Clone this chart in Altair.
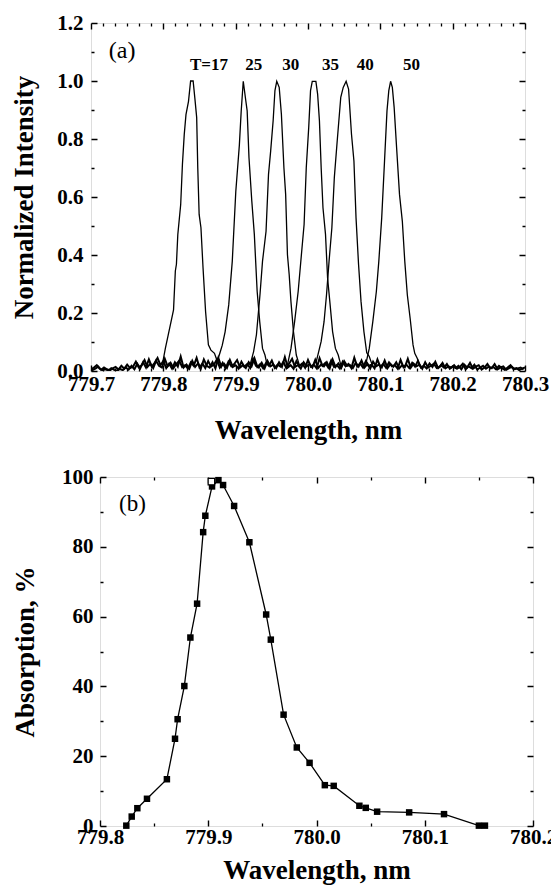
import altair as alt
import numpy as np
import pandas as pd

FONT = "Liberation Serif"

# ---------------- Panel (a): emission spectra ----------------
t17_wl = [779.7994, 779.8028, 779.8067, 779.8117, 779.8141, 779.8166, 779.8181, 779.8200, 779.8240, 779.8264,
          779.8289, 779.8313, 779.8348, 779.8377, 779.8412, 779.8436, 779.8461, 779.8476, 779.8495, 779.8520,
          779.8549, 779.8584, 779.8623, 779.8658, 779.8707, 779.8731, 779.8766, 779.8805]
t17_i = [0.032, 0.078, 0.124, 0.182, 0.211, 0.345, 0.368, 0.470, 0.574, 0.713,
         0.815, 0.884, 0.930, 1.000, 1.000, 0.940, 0.874, 0.701, 0.540, 0.494,
         0.355, 0.205, 0.090, 0.072, 0.061, 0.044, 0.026, 0.009]

t25_wl = [779.8731, 779.8781, 779.8815, 779.8854, 779.8904, 779.8953, 779.9002, 779.9051, 779.9076, 779.9105,
          779.9140, 779.9159, 779.9184, 779.9223, 779.9258, 779.9297, 779.9332, 779.9371, 779.9405, 779.9435]
t25_i = [0.021, 0.061, 0.089, 0.135, 0.228, 0.378, 0.620, 0.779, 0.894, 0.999,
         0.932, 0.897, 0.736, 0.586, 0.471, 0.275, 0.171, 0.078, 0.055, 0.021]

t30_wl = [779.9199, 779.9248, 779.9287, 779.9336, 779.9371, 779.9420, 779.9454, 779.9484, 779.9518, 779.9543,
          779.9568, 779.9602, 779.9632, 779.9667, 779.9691, 779.9716, 779.9740, 779.9764, 779.9799, 779.9838,
          779.9887]
t30_i = [0.021, 0.067, 0.125, 0.263, 0.378, 0.482, 0.678, 0.759, 0.863, 0.967,
         0.999, 0.978, 0.886, 0.701, 0.609, 0.401, 0.332, 0.240, 0.136, 0.055,
         0.015]

t35_wl = [779.9716, 779.9765, 779.9815, 779.9864, 779.9913, 779.9946, 779.9976, 780.0010, 780.0035, 780.0059,
          780.0109, 780.0133, 780.0158, 780.0182, 780.0207, 780.0242, 780.0271, 780.0306, 780.0340, 780.0379,
          780.0418, 780.0453]
t35_i = [0.021, 0.078, 0.170, 0.274, 0.413, 0.505, 0.701, 0.840, 0.967, 0.999,
         0.999, 0.955, 0.863, 0.701, 0.563, 0.471, 0.320, 0.228, 0.136, 0.078,
         0.055, 0.021]

t40_wl = [780.0109, 780.0148, 780.0182, 780.0222, 780.0256, 780.0291, 780.0330, 780.0364, 780.0404, 780.0453,
          780.0487, 780.0527, 780.0561, 780.0601, 780.0635, 780.0664, 780.0699, 780.0733, 780.0773, 780.0812,
          780.0847, 780.0896]
t40_i = [0.027, 0.067, 0.102, 0.170, 0.263, 0.378, 0.494, 0.667, 0.794, 0.944,
         0.978, 0.999, 0.972, 0.817, 0.724, 0.528, 0.367, 0.240, 0.136, 0.063,
         0.050, 0.015]

t50_wl = [780.0797, 780.0847, 780.0896, 780.0945, 780.0979, 780.1019, 780.1058, 780.1092, 780.1117, 780.1142,
          780.1166, 780.1191, 780.1225, 780.1265, 780.1304, 780.1338, 780.1373, 780.1412, 780.1452, 780.1476,
          780.1510, 780.1550]
t50_i = [0.021, 0.078, 0.170, 0.274, 0.378, 0.528, 0.724, 0.897, 0.967, 0.999,
         0.978, 0.909, 0.770, 0.609, 0.517, 0.378, 0.263, 0.182, 0.090, 0.061,
         0.044, 0.015]

# baseline noise of the spectra (thousandths of normalized intensity), read by eye
noise_a = [5, 12, 20, 8, 3, 6, 2, 10, 4, 1, 7, 3, 12, 5, 18, 6, 25, 9, 30, 12, 40, 15, 28, 45, 20,
           35, 10, 25, 8, 30, 15, 50, 12, 22, 8, 35, 14, 26, 10, 40, 18, 12, 30, 9, 45, 16, 25, 11, 38, 14, 20,
           8, 32, 15, 24, 10, 42, 18, 12, 28, 9, 35, 16, 22, 10, 30, 14, 48, 12, 20, 8, 34, 17, 26, 11, 38,
           15, 22, 9, 44, 18, 28, 12, 36, 14, 20, 8, 32, 16, 24, 10, 46, 15, 26, 12, 34, 18, 22, 9, 40, 14,
           25, 11, 30, 16, 20, 8, 38, 13, 22, 10, 28, 15, 35, 12, 18, 9, 26, 14, 32, 10, 20, 12, 24, 8, 16,
           10, 18, 6, 22, 12, 28, 8, 15, 20, 5, 12, 24, 9, 14, 6, 18, 10, 4, 12, 20, 7, 10, 3, 8, 12]
noise_b = [10, 3, 8, 15, 4, 12, 6, 2, 9, 14, 5, 18, 8, 22, 10, 15, 32, 12, 20, 38, 14, 25, 10, 35, 18,
           12, 42, 16, 28, 10, 24, 36, 14, 20, 8, 30, 18, 45, 12, 26, 10, 34, 15, 22, 40, 12, 28, 9, 32, 16, 24,
           38, 12, 20, 10, 30, 16, 44, 14, 24, 9, 28, 18, 36, 11, 22, 15, 32, 10, 26, 42, 14, 20, 8, 30, 16,
           24, 12, 38, 10, 22, 16, 30, 9, 40, 14, 26, 11, 34, 18, 20, 10, 28, 15, 36, 12, 24, 8, 32, 16, 22,
           12, 36, 10, 24, 15, 30, 9, 20, 14, 42, 11, 26, 16, 22, 8, 30, 12, 18, 25, 10, 14, 28, 9, 16, 12,
           20, 8, 14, 25, 6, 16, 10, 22, 5, 12, 18, 8, 15, 10, 24, 6, 12, 16, 4, 10, 14, 6, 9, 12, 5]

peak_labels = ["T=17", "25", "30", "35", "40", "50"]
peak_label_wl = [779.863, 779.925, 779.976, 780.031, 780.079, 780.143]
peak_label_y = [1.055] * 6

# ---------------- Panel (b): absorption ----------------
b_wl = [779.8243, 779.8293, 779.8345, 779.8434, 779.8618, 779.8693, 779.8717, 779.8779, 779.8835, 779.8897,
        779.8953, 779.8973, 779.9035, 779.9094, 779.9137, 779.9239, 779.9380, 779.9535, 779.9578, 779.9696,
        779.9818, 779.9936, 780.0077, 780.0159, 780.0396, 780.0455, 780.0560, 780.0856, 780.1178, 780.1500,
        780.1556]
b_abs = [0.1, 2.7, 5.1, 7.8, 13.4, 25.0, 30.6, 40.1, 54.0, 63.7,
         84.2, 88.9, 97.3, 99.1, 97.7, 91.7, 81.3, 60.6, 53.4, 31.9,
         22.5, 18.1, 11.7, 11.5, 5.8, 5.2, 4.1, 3.9, 3.4, 0.1,
         0.1]
open_wl = [779.9029]
open_abs = [98.7]

# tick values
xa_major = [779.7, 779.8, 779.9, 780.0, 780.1, 780.2, 780.3]
xa_minor = [round(779.7 + k / 60.0, 5) for k in range(37) if k % 6 != 0]
ya_major = [0.0, 0.2, 0.4, 0.6, 0.8, 1.0, 1.2]
ya_minor = [0.1, 0.3, 0.5, 0.7, 0.9, 1.1]
xb_major = [779.8, 779.9, 780.0, 780.1, 780.2]
xb_minor = [779.85, 779.95, 780.05, 780.15]
yb_major = [0, 20, 40, 60, 80, 100]
yb_minor = [10, 30, 50, 70, 90]

# ---------------- build tables ----------------
rows = []
for name, wls, vals in [("17", t17_wl, t17_i), ("25", t25_wl, t25_i), ("30", t30_wl, t30_i),
                        ("35", t35_wl, t35_i), ("40", t40_wl, t40_i), ("50", t50_wl, t50_i)]:
    for w, v in zip(wls, vals):
        rows.append({"wl": w, "I": v, "series": name})
df_peaks = pd.DataFrame(rows)
grid_a = np.round(779.700 + 0.004 * np.arange(len(noise_a)), 4)
grid_b = np.round(779.698 + 0.004 * np.arange(len(noise_b)), 4)
df_noise = pd.concat([
    pd.DataFrame({"wl": grid_a, "I": np.array(noise_a) / 1000.0, "series": "noiseA"}),
    pd.DataFrame({"wl": grid_b, "I": np.array(noise_b) / 1000.0, "series": "noiseB"}),
], ignore_index=True)

df_lab = pd.DataFrame({"wl": peak_label_wl, "I": peak_label_y, "label": peak_labels})
df_tag_a = pd.DataFrame({"wl": [779.743], "I": [1.105], "label": ["(a)"]})

df_b = pd.DataFrame({"wl": b_wl, "A": b_abs})
df_open = pd.DataFrame({"wl": open_wl, "A": open_abs})
df_tag_b = pd.DataFrame({"wl": [779.830], "A": [92.2], "label": ["(b)"]})

# ---------------- axes helpers ----------------
LBL = 21
TTL = 27


def major_axis(values, fmt, span, tlen, title, grid=True, **kw):
    return alt.Axis(
        values=values, format=fmt,
        grid=grid, gridColor="black", gridOpacity=1, gridWidth=1.4,
        gridDash=[tlen, span - 2 * tlen, tlen, 4000],
        ticks=False, tickSize=0, domain=False,
        labelFont=FONT, labelFontSize=LBL, labelFontWeight="bold", labelColor="black",
        labelOverlap=False, labelFlush=False, labelBound=False,
        title=title,
        titleFont=FONT, titleFontSize=TTL, titleFontWeight="bold", titleColor="black",
        **kw)


def minor_axis(values, span, tlen, orient):
    return alt.Axis(
        values=values, orient=orient,
        grid=True, gridColor="black", gridOpacity=1, gridWidth=1.3,
        gridDash=[tlen, span - 2 * tlen, tlen, 4000],
        ticks=False, tickSize=0, domain=False, labels=False, title=None,
        minExtent=0, maxExtent=0)


W1, H1 = 434, 348
W2, H2 = 433, 349
SHIFT_B = 9   # panel (b) frame starts a little to the right of panel (a)

sx_a = alt.Scale(domain=[779.7, 780.3], nice=False, zero=False)
sy_a = alt.Scale(domain=[0, 1.2], nice=False, zero=False)
sx_b = alt.Scale(domain=[779.8, 780.2], nice=False, zero=False)
sy_b = alt.Scale(domain=[0, 100], nice=False, zero=False)

# ---------------- panel (a) ----------------
lines_a = alt.Chart(df_peaks).mark_line(color="black", strokeWidth=1.3, clip=True).encode(
    x=alt.X("wl:Q", scale=sx_a,
            axis=major_axis(xa_major, ".1f", H1, 6, "Wavelength, nm", orient="bottom",
                            labelPadding=2, minExtent=26, maxExtent=26, titlePadding=20)),
    y=alt.Y("I:Q", scale=sy_a,
            axis=major_axis(ya_major, ".1f", W1, 6, "Normalized Intensity", orient="left",
                            labelPadding=8, minExtent=40, maxExtent=40, titlePadding=13)),
    detail="series:N",
)
noise_lines = alt.Chart(df_noise).mark_line(color="black", strokeWidth=2.0, clip=True).encode(
    x=alt.X("wl:Q", scale=sx_a, axis=minor_axis(xa_minor, H1, 3, "top")),
    y=alt.Y("I:Q", scale=sy_a, axis=minor_axis(ya_minor, W1, 3, "right")),
    detail="series:N",
)
labels_a = alt.Chart(df_lab).mark_text(font=FONT, fontSize=17, fontWeight="bold", color="black").encode(
    x=alt.X("wl:Q", scale=sx_a, axis=None), y=alt.Y("I:Q", scale=sy_a, axis=None), text="label:N")
tag_a = alt.Chart(df_tag_a).mark_text(font=FONT, fontSize=24, color="black").encode(
    x=alt.X("wl:Q", scale=sx_a, axis=None), y=alt.Y("I:Q", scale=sy_a, axis=None), text="label:N")
top = alt.layer(lines_a, noise_lines, labels_a, tag_a).resolve_axis(
    x="independent", y="independent").properties(width=W1, height=H1)

# ---------------- panel (b) ----------------
# narrow strip that carries the labelled y axis of panel (b)
yaxis_b = alt.Chart(df_b).mark_point(opacity=0).encode(
    y=alt.Y("A:Q", scale=sy_b,
            axis=major_axis(yb_major, ".0f", W2, 6, "Absorption, %", grid=False, orient="left",
                            labelPadding=-2, minExtent=40, maxExtent=40, titlePadding=12)),
).properties(width=SHIFT_B, height=H2, view=alt.ViewBackground(stroke="transparent"))

line_b = alt.Chart(df_b).mark_line(color="black", strokeWidth=1.3).encode(
    x=alt.X("wl:Q", scale=sx_b,
            axis=major_axis(xb_major, ".1f", H2, 6, "Wavelength, nm", orient="bottom",
                            labelPadding=0, minExtent=26, maxExtent=26, titlePadding=5)),
    y=alt.Y("A:Q", scale=sy_b,
            axis=alt.Axis(values=yb_major, orient="left", grid=True, gridColor="black", gridOpacity=1,
                          gridWidth=1.4, gridDash=[6, W2 - 12, 6, 4000], ticks=False, tickSize=0,
                          domain=False, labels=False, title=None, minExtent=0, maxExtent=0)),
)
pts_b = alt.Chart(df_b).mark_point(shape="square", filled=True, color="black", size=42, opacity=1).encode(
    x=alt.X("wl:Q", scale=sx_b, axis=minor_axis(xb_minor, H2, 3, "top")),
    y=alt.Y("A:Q", scale=sy_b, axis=minor_axis(yb_minor, W2, 3, "right")))
open_b = alt.Chart(df_open).mark_point(shape="square", filled=True, fill="white", stroke="black",
                                       strokeWidth=1.2, size=42, opacity=1).encode(
    x=alt.X("wl:Q", scale=sx_b, axis=None), y=alt.Y("A:Q", scale=sy_b, axis=None))
tag_b = alt.Chart(df_tag_b).mark_text(font=FONT, fontSize=23, color="black").encode(
    x=alt.X("wl:Q", scale=sx_b, axis=None), y=alt.Y("A:Q", scale=sy_b, axis=None), text="label:N")
bottom = alt.layer(line_b, pts_b, open_b, tag_b).resolve_axis(
    x="independent", y="independent").properties(width=W2, height=H2)

row_b = alt.hconcat(yaxis_b, bottom, spacing=0, bounds="flush")

chart = alt.vconcat(top, row_b, spacing=106, bounds="flush").properties(
    autosize=alt.AutoSizeParams(type="none"),
    padding={"left": 83, "top": 15, "right": 460, "bottom": 864},
).configure_view(stroke="black", strokeWidth=2).configure(background="white")

chart.save("out.html", embed_options={"renderer": "svg", "actions": False})
